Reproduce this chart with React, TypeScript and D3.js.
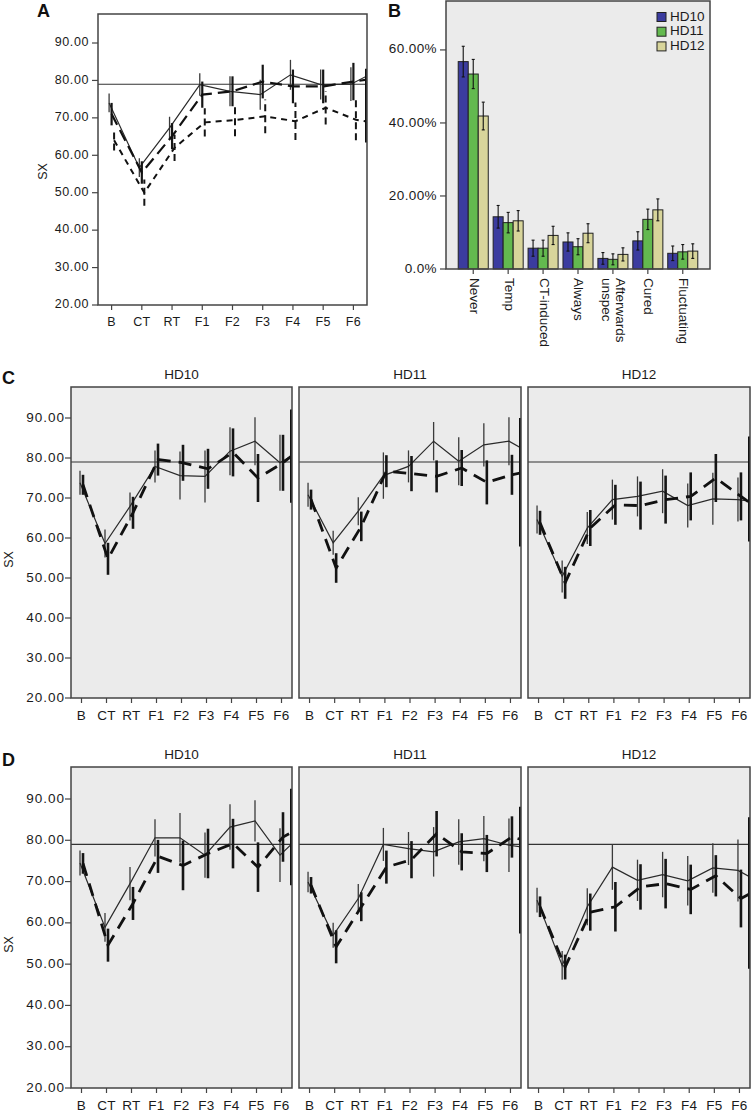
import React from "react";
import * as d3 from "d3";

const W = 751;
const H = 1113;
const FONT = "'Liberation Sans', Arial, Helvetica, sans-serif";

const TIMES = ["B", "CT", "RT", "F1", "F2", "F3", "F4", "F5", "F6"];
const Y_TICKS = [20, 30, 40, 50, 60, 70, 80, 90];
const Y_DOMAIN = [20, 97.75];
const REF_VALUE = 79;

// ---------- Panel A (three groups) ----------
const A_SOLID = [74, 56.7, 67.3, 78.9, 77.1, 76.2, 81.5, 78.9, 79];
const A_SOLID_ERR = [2.5, 2.5, 3, 3, 4, 4, 4, 4, 4.5];
const A_LONG = [71, 55.4, 65.1, 76.2, 77.1, 79.7, 78.4, 78.4, 79.7];
const A_LONG_ERR = [3, 3, 3.5, 3.5, 4, 4.5, 4.5, 4.5, 5];
const A_SHORT = [64, 50, 62, 68.8, 69.4, 70.4, 69.1, 72.7, 69.5];
const A_SHORT_ERR = [2.7, 3.5, 3.5, 3.8, 4.3, 4.5, 5, 4.5, 5.5];
const A_EDGE = [81.2, 80.2, 69];
const A_EDGE_BAR = [63.4, 83.1];

// ---------- Panel B (bars) ----------
const CAUSES = ["Never", "Temp", "CT-induced", "Always", "Afterwards unspec", "Cured", "Fluctuating"];
const CAUSE_LINES = [["Never"], ["Temp"], ["CT-induced"], ["Always"], ["Afterwards", "unspec"], ["Cured"], ["Fluctuating"]];
const GROUPS = ["HD10", "HD11", "HD12"];
const GROUP_COLORS = ["#3b3c9f", "#63b94f", "#d8d59b"];
const B_HD10 = [56.8, 14.3, 5.7, 7.4, 2.9, 7.7, 4.3];
const B_HD10_ERR = [4.2, 3.1, 2.2, 2.5, 1.6, 2.5, 2.0];
const B_HD11 = [53.4, 12.7, 5.7, 6.1, 2.65, 13.6, 4.7];
const B_HD11_ERR = [4.0, 2.8, 2.2, 2.2, 1.5, 2.8, 2.0];
const B_HD12 = [41.9, 13.2, 9.2, 9.8, 4.0, 16.2, 4.9];
const B_HD12_ERR = [3.8, 2.8, 2.5, 2.6, 1.8, 3.0, 2.0];
const B_TICKS = [0, 20, 40, 60];
const B_MAX = 73.4;

// ---------- Panel C ----------
const C_HD10_SOLID = [73.8, 58.6, 67.9, 77.9, 75.6, 75.4, 81.7, 84.2, 78.8];
const C_HD10_SOLID_ERR = [3, 3.5, 3.5, 4, 6, 6.5, 6, 6, 7];
const C_HD10_DASH = [73.3, 54.8, 66.3, 79.6, 78.8, 77.3, 81.4, 75, 78.8];
const C_HD10_DASH_ERR = [2.5, 4, 4, 4, 4.5, 5, 6, 6, 7];
const C_HD10_EDGE = [80.6, 80.6];
const C_HD10_EDGE_BAR = [68.8, 92.1];

const C_HD11_SOLID = [70.8, 58.8, 66.7, 75.6, 77.9, 84.2, 79.2, 83.3, 84.2];
const C_HD11_SOLID_ERR = [3, 3, 3.5, 5.8, 4, 4.8, 6, 5.4, 6];
const C_HD11_DASH = [69.6, 52.5, 62.9, 76.7, 76.1, 75.4, 77.5, 73.9, 75.8];
const C_HD11_DASH_ERR = [2.5, 3.7, 3.7, 4, 4.4, 4, 4.5, 5.5, 5];
const C_HD11_EDGE = [82.5, 76.3];
const C_HD11_EDGE_BAR = [57.9, 90];

const C_HD12_SOLID = [64.6, 50.4, 62.5, 69.6, 70.4, 71.7, 68.1, 69.8, 69.6];
const C_HD12_SOLID_ERR = [3.5, 4, 4, 5, 5, 5.5, 5.5, 6.5, 5.5];
const C_HD12_DASH = [63.8, 48.8, 62.5, 68.3, 68.1, 69.6, 70.4, 75, 70.4];
const C_HD12_DASH_ERR = [3, 4, 4.5, 5, 6, 6, 6, 6, 6];
const C_HD12_EDGE = [69.2, 68.8];
const C_HD12_EDGE_BAR = [59.1, 85.4];

// ---------- Panel D ----------
const D_HD10_SOLID = [74.5, 58.9, 69.5, 80.6, 80.6, 76.4, 83.2, 84.7, 76.4];
const D_HD10_SOLID_ERR = [3, 3.5, 4, 4.5, 6, 5.5, 5.5, 5, 6.5];
const D_HD10_DASH = [74.4, 54.6, 64.7, 76.1, 73.9, 76.8, 79.2, 73.5, 80.8];
const D_HD10_DASH_ERR = [2.5, 4, 4, 4, 6, 6, 6, 6, 6];
const D_HD10_EDGE = [79.2, 82];
const D_HD10_EDGE_BAR = [69.1, 92.5];

const D_HD11_SOLID = [69.9, 57, 65.9, 79, 78, 77.2, 79.6, 80.4, 78.8];
const D_HD11_SOLID_ERR = [2.5, 3, 3.5, 4, 4, 6, 5.5, 5.5, 6.5];
const D_HD11_DASH = [69.1, 54.2, 63.9, 73.5, 75.3, 81.6, 77.2, 76.8, 80.8];
const D_HD11_DASH_ERR = [2, 4, 3.5, 4, 4.5, 5.5, 4.5, 4.5, 5];
const D_HD11_EDGE = [78.4, 80.2];
const D_HD11_EDGE_BAR = [57.4, 88.1];

const D_HD12_SOLID = [65.5, 49.7, 63.9, 73.5, 70.3, 71.7, 70.2, 73.3, 72.7];
const D_HD12_SOLID_ERR = [3, 3.5, 4.5, 5.5, 5, 5.5, 6, 6, 7.5];
const D_HD12_DASH = [63.9, 49.3, 62.6, 63.9, 68.7, 69.5, 68.1, 71.4, 65.9];
const D_HD12_DASH_ERR = [2.5, 3, 4.5, 6, 5.5, 6, 6, 5, 7];
const D_HD12_EDGE = [71.1, 67.1];
const D_HD12_EDGE_BAR = [48.9, 85.6];

type StyleKey = "solid" | "long" | "short";
type Series = { mean: number[]; err: number[]; edge: number; style: StyleKey; dodge: number };

const LINE_STYLES: Record<string, { w: number; dash: string | undefined; barW: number; barDash: string | undefined; color: string }> = {
  solid: { w: 1.2, dash: undefined, barW: 1.3, barDash: undefined, color: "#2a2a2a" },
  long: { w: 2.2, dash: "12,6", barW: 2.2, barDash: undefined, color: "#111" },
  short: { w: 2.0, dash: "6,5", barW: 2.0, barDash: "7,4", color: "#111" },
  longThick: { w: 2.8, dash: "13,8", barW: 2.6, barDash: undefined, color: "#111" },
};

function LinePanel(props: {
  left: number; right: number; top: number; bottom: number;
  series: Series[]; edgeBar: number[]; grey: boolean; yAxis: boolean;
  title?: string; thick?: boolean; yLabelRight: number; sxX: number;
}) {
  const { left, right, top, bottom, series, edgeBar, grey, yAxis, title, thick, yLabelRight, sxX } = props;
  const x = d3.scalePoint<string>().domain(TIMES).range([left, right]).padding(thick ? 0.42 : 0.45);
  const y = d3.scaleLinear().domain(Y_DOMAIN).range([bottom, top]);
  const clipId = `clip-${Math.round(left)}-${Math.round(top)}`;
  const fs = thick ? 13.5 : 12.5;
  return (
    <g>
      <defs>
        <clipPath id={clipId}>
          <rect x={left} y={top} width={right - left} height={bottom - top} />
        </clipPath>
      </defs>
      <rect x={left} y={top} width={right - left} height={bottom - top} fill={grey ? "#ebebeb" : "#ffffff"} />
      <g clipPath={`url(#${clipId})`}>
        <line x1={left} x2={right} y1={y(REF_VALUE)} y2={y(REF_VALUE)} stroke="#333" strokeWidth={1.1} />
        {series.map((s, si) => {
          const st = LINE_STYLES[s.style === "long" && thick ? "longThick" : s.style];
          const pts: [number, number][] = s.mean.map((m, i) => [(x(TIMES[i]) as number) + s.dodge, y(m)]);
          pts.push([right, y(s.edge)]);
          const path = d3.line()(pts) || "";
          return (
            <g key={si}>
              {s.mean.map((m, i) => (
                <line key={i}
                  x1={(x(TIMES[i]) as number) + s.dodge} x2={(x(TIMES[i]) as number) + s.dodge}
                  y1={y(m - s.err[i])} y2={y(m + s.err[i])}
                  stroke={s.style === "solid" ? "#3a3a3a" : "#151515"} strokeWidth={st.barW}
                  strokeDasharray={st.barDash} />
              ))}
              <path d={path} fill="none" stroke={st.color} strokeWidth={st.w} strokeDasharray={st.dash} />
            </g>
          );
        })}
        <line x1={right - 0.5} x2={right - 0.5} y1={y(edgeBar[0])} y2={y(edgeBar[1])} stroke="#111" strokeWidth={3} />
      </g>
      <rect x={left} y={top} width={right - left} height={bottom - top} fill="none" stroke="#444" strokeWidth={1.5} />
      {title && (
        <text x={(left + right) / 2} y={top - 12} textAnchor="middle" dominantBaseline="middle"
          fontSize={13.5} fill="#1a1a1a" fontFamily={FONT}>{title}</text>
      )}
      {TIMES.map((t) => (
        <g key={t}>
          <line x1={x(t)} x2={x(t)} y1={bottom} y2={bottom + 5} stroke="#444" strokeWidth={1.2} />
          <text x={x(t)} y={bottom + 18} textAnchor="middle" dominantBaseline="middle"
            fontSize={fs} fill="#1a1a1a" fontFamily={FONT} letterSpacing={0.3}>{t}</text>
        </g>
      ))}
      {yAxis && (
        <g>
          {Y_TICKS.map((v) => (
            <g key={v}>
              <line x1={left - 6} x2={left} y1={y(v)} y2={y(v)} stroke="#444" strokeWidth={1.2} />
              <text x={yLabelRight} y={y(v)} textAnchor="end" dominantBaseline="middle"
                fontSize={fs} fill="#1a1a1a" fontFamily={FONT} letterSpacing={thick ? 1.0 : 0.6}>{v.toFixed(2)}</text>
            </g>
          ))}
          <text transform={`translate(${sxX},${(top + bottom) / 2 + (thick ? 17 : 12)}) rotate(-90)`}
            textAnchor="middle" dominantBaseline="middle" fontSize={12.5} fill="#1a1a1a" fontFamily={FONT}>SX</text>
        </g>
      )}
    </g>
  );
}

function BarPanel() {
  const left = 446, right = 710, top = 1, bottom = 269;
  const x = d3.scaleBand<string>().domain(CAUSES).range([left, right]).paddingInner(0.14).paddingOuter(0.35);
  const xs = d3.scaleBand<string>().domain(GROUPS).range([0, x.bandwidth()]);
  const y = d3.scaleLinear().domain([0, B_MAX]).range([bottom, top]);
  const vals = [B_HD10, B_HD11, B_HD12];
  const errs = [B_HD10_ERR, B_HD11_ERR, B_HD12_ERR];
  return (
    <g>
      <rect x={left} y={top} width={right - left} height={bottom - top} fill="#ebebeb" />
      {CAUSES.map((c, ci) => (
        <g key={c}>
          {GROUPS.map((g, gi) => {
            const bx = (x(c) as number) + (xs(g) as number);
            const v = vals[gi][ci];
            const e = errs[gi][ci];
            const cx = bx + xs.bandwidth() / 2;
            return (
              <g key={g}>
                <rect x={bx} y={y(v)} width={xs.bandwidth()} height={y(0) - y(v)} fill={GROUP_COLORS[gi]}
                  stroke="#222" strokeWidth={1} />
                <line x1={cx} x2={cx} y1={y(v - e)} y2={y(v + e)} stroke="#111" strokeWidth={1.1} />
                <line x1={cx - 1.5} x2={cx + 1.5} y1={y(v - e)} y2={y(v - e)} stroke="#111" strokeWidth={1.1} />
                <line x1={cx - 1.5} x2={cx + 1.5} y1={y(v + e)} y2={y(v + e)} stroke="#111" strokeWidth={1.1} />
              </g>
            );
          })}
          <line x1={(x(c) as number) + x.bandwidth() / 2} x2={(x(c) as number) + x.bandwidth() / 2}
            y1={bottom} y2={bottom + 5} stroke="#444" strokeWidth={1.2} />
          <text transform={`translate(${(x(c) as number) + x.bandwidth() / 2},${bottom + 9}) rotate(90)`}
            fontSize={13.5} fill="#1a1a1a" fontFamily={FONT}>
            {CAUSE_LINES[ci].map((ln, li) => (
              <tspan key={li} x={0} y={CAUSE_LINES[ci].length === 1 ? 0 : (li === 0 ? -7 : 7)}
                dominantBaseline="middle">{ln}</tspan>
            ))}
          </text>
        </g>
      ))}
      <rect x={left} y={top} width={right - left} height={bottom - top} fill="none" stroke="#444" strokeWidth={1.5} />
      {B_TICKS.map((v) => (
        <g key={v}>
          <line x1={left - 6} x2={left} y1={y(v)} y2={y(v)} stroke="#444" strokeWidth={1.2} />
          <text x={437} y={y(v)} textAnchor="end" dominantBaseline="middle" fontSize={13.5} fill="#1a1a1a"
            fontFamily={FONT} letterSpacing={0.4}>{v === 0 ? "0.0%" : `${v.toFixed(2)}%`}</text>
        </g>
      ))}
      {GROUPS.map((g, gi) => (
        <g key={g}>
          <rect x={657} y={12.5 + gi * 14.7} width={9} height={9} fill={GROUP_COLORS[gi]} stroke="#222" strokeWidth={1} />
          <text x={670} y={17 + gi * 14.7} dominantBaseline="middle" fontSize={13.5} fill="#1a1a1a" fontFamily={FONT}>{g}</text>
        </g>
      ))}
    </g>
  );
}

function mk(solid: number[], solidErr: number[], dash: number[], dashErr: number[], edge: number[]): Series[] {
  return [
    { mean: solid, err: solidErr, edge: edge[0], style: "solid", dodge: -1.5 },
    { mean: dash, err: dashErr, edge: edge[1], style: "long", dodge: 1.5 },
  ];
}

export default function App() {
  const aSeries: Series[] = [
    { mean: A_SOLID, err: A_SOLID_ERR, edge: A_EDGE[0], style: "solid", dodge: -2.5 },
    { mean: A_LONG, err: A_LONG_ERR, edge: A_EDGE[1], style: "long", dodge: 0 },
    { mean: A_SHORT, err: A_SHORT_ERR, edge: A_EDGE[2], style: "short", dodge: 2.5 },
  ];
  const cols = [[71, 292], [299, 521], [528, 750]];
  const cPanels = [
    { title: "HD10", series: mk(C_HD10_SOLID, C_HD10_SOLID_ERR, C_HD10_DASH, C_HD10_DASH_ERR, C_HD10_EDGE), edge: C_HD10_EDGE_BAR },
    { title: "HD11", series: mk(C_HD11_SOLID, C_HD11_SOLID_ERR, C_HD11_DASH, C_HD11_DASH_ERR, C_HD11_EDGE), edge: C_HD11_EDGE_BAR },
    { title: "HD12", series: mk(C_HD12_SOLID, C_HD12_SOLID_ERR, C_HD12_DASH, C_HD12_DASH_ERR, C_HD12_EDGE), edge: C_HD12_EDGE_BAR },
  ];
  const dPanels = [
    { title: "HD10", series: mk(D_HD10_SOLID, D_HD10_SOLID_ERR, D_HD10_DASH, D_HD10_DASH_ERR, D_HD10_EDGE), edge: D_HD10_EDGE_BAR },
    { title: "HD11", series: mk(D_HD11_SOLID, D_HD11_SOLID_ERR, D_HD11_DASH, D_HD11_DASH_ERR, D_HD11_EDGE), edge: D_HD11_EDGE_BAR },
    { title: "HD12", series: mk(D_HD12_SOLID, D_HD12_SOLID_ERR, D_HD12_DASH, D_HD12_DASH_ERR, D_HD12_EDGE), edge: D_HD12_EDGE_BAR },
  ];
  return (
    <svg width={W} height={H} viewBox={`0 0 ${W} ${H}`}
      style={{ position: "absolute", left: 0, top: 0, background: "#fff", display: "block" }}>
      <rect x={0} y={0} width={W} height={H} fill="#fff" />
      <LinePanel left={98} right={367} top={14} bottom={305} series={aSeries} edgeBar={A_EDGE_BAR}
        grey={false} yAxis={true} yLabelRight={89} sxX={44} />
      <BarPanel />
      {cPanels.map((p, i) => (
        <LinePanel key={"c" + i} left={cols[i][0]} right={cols[i][1]} top={387} bottom={698}
          series={p.series} edgeBar={p.edge} grey={true} yAxis={i === 0} title={p.title} thick={true}
          yLabelRight={65} sxX={10} />
      ))}
      {dPanels.map((p, i) => (
        <LinePanel key={"d" + i} left={cols[i][0]} right={cols[i][1]} top={767} bottom={1088}
          series={p.series} edgeBar={p.edge} grey={true} yAxis={i === 0} title={p.title} thick={true}
          yLabelRight={65} sxX={10} />
      ))}
      <text x={37} y={17} fontSize={18} fontWeight="bold" fill="#111" fontFamily={FONT}>A</text>
      <text x={388} y={17} fontSize={18} fontWeight="bold" fill="#111" fontFamily={FONT}>B</text>
      <text x={2} y={384} fontSize={18} fontWeight="bold" fill="#111" fontFamily={FONT}>C</text>
      <text x={2} y={766} fontSize={18} fontWeight="bold" fill="#111" fontFamily={FONT}>D</text>
    </svg>
  );
}
